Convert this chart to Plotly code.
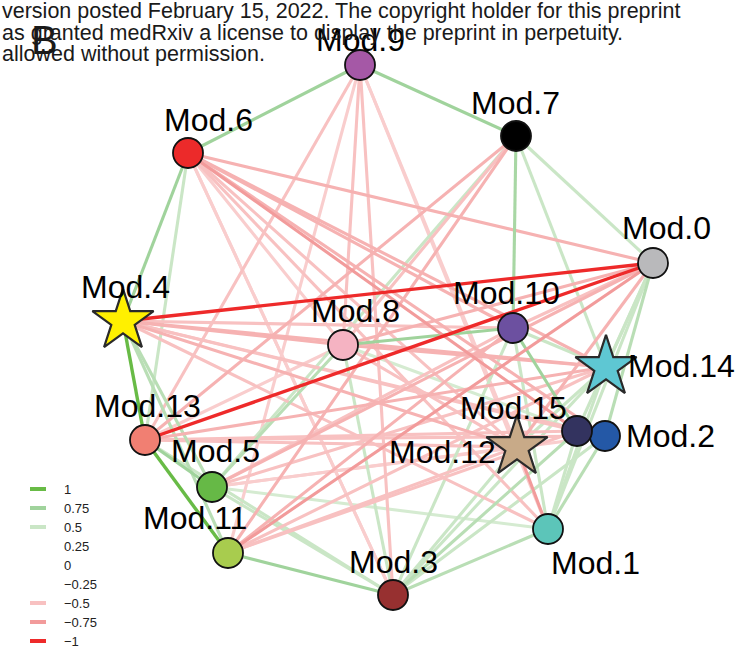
import plotly.graph_objects as go

# ---------------- data ----------------
modules = ["Mod.0", "Mod.1", "Mod.2", "Mod.3", "Mod.4", "Mod.5", "Mod.6", "Mod.7",
           "Mod.8", "Mod.9", "Mod.10", "Mod.11", "Mod.12", "Mod.13", "Mod.14", "Mod.15"]

# network layout (x, y) in the drawing frame
layout_x = {"Mod.0": 653, "Mod.1": 548, "Mod.2": 605, "Mod.3": 393, "Mod.4": 123, "Mod.5": 212,
            "Mod.6": 188, "Mod.7": 516, "Mod.8": 343, "Mod.9": 360, "Mod.10": 513, "Mod.11": 228,
            "Mod.12": 517, "Mod.13": 145, "Mod.14": 606, "Mod.15": 577}
layout_y = {"Mod.0": 263, "Mod.1": 529, "Mod.2": 436, "Mod.3": 595, "Mod.4": 321, "Mod.5": 487,
            "Mod.6": 153, "Mod.7": 136, "Mod.8": 345, "Mod.9": 65, "Mod.10": 328, "Mod.11": 553,
            "Mod.12": 447, "Mod.13": 440, "Mod.14": 367, "Mod.15": 431}

hub_modules = ["Mod.4", "Mod.14", "Mod.12"]

edge_from = ["Mod.9", "Mod.9", "Mod.6", "Mod.6", "Mod.4", "Mod.4", "Mod.4", "Mod.13", "Mod.13", "Mod.13",
             "Mod.5", "Mod.11", "Mod.8", "Mod.8", "Mod.8", "Mod.8", "Mod.7", "Mod.7", "Mod.7", "Mod.7",
             "Mod.10", "Mod.10", "Mod.10", "Mod.10", "Mod.0", "Mod.0", "Mod.0", "Mod.0", "Mod.14", "Mod.14",
             "Mod.15", "Mod.2", "Mod.1", "Mod.2", "Mod.15", "Mod.12", "Mod.12", "Mod.5",
             "Mod.4", "Mod.13", "Mod.6", "Mod.6", "Mod.6", "Mod.6", "Mod.6", "Mod.6", "Mod.6", "Mod.6",
             "Mod.6", "Mod.9", "Mod.9", "Mod.9", "Mod.9", "Mod.9", "Mod.9", "Mod.7", "Mod.7", "Mod.7",
             "Mod.4", "Mod.4", "Mod.4", "Mod.4", "Mod.4", "Mod.4", "Mod.4", "Mod.13", "Mod.13", "Mod.13",
             "Mod.13", "Mod.13", "Mod.5", "Mod.5", "Mod.5", "Mod.5", "Mod.11", "Mod.11", "Mod.11", "Mod.11",
             "Mod.0", "Mod.0", "Mod.0", "Mod.12", "Mod.8", "Mod.8", "Mod.11", "Mod.5", "Mod.3"]
edge_to = ["Mod.7", "Mod.6", "Mod.4", "Mod.13", "Mod.13", "Mod.5", "Mod.11", "Mod.11", "Mod.5", "Mod.3",
           "Mod.3", "Mod.3", "Mod.10", "Mod.5", "Mod.15", "Mod.3", "Mod.10", "Mod.14", "Mod.0", "Mod.5",
           "Mod.15", "Mod.14", "Mod.3", "Mod.1", "Mod.14", "Mod.2", "Mod.15", "Mod.1", "Mod.1", "Mod.3",
           "Mod.3", "Mod.3", "Mod.3", "Mod.1", "Mod.1", "Mod.3", "Mod.14", "Mod.1",
           "Mod.0", "Mod.0", "Mod.0", "Mod.14", "Mod.10", "Mod.15", "Mod.2", "Mod.12", "Mod.1", "Mod.3",
           "Mod.8", "Mod.8", "Mod.3", "Mod.12", "Mod.1", "Mod.13", "Mod.11", "Mod.13", "Mod.11", "Mod.8",
           "Mod.14", "Mod.2", "Mod.15", "Mod.12", "Mod.1", "Mod.8", "Mod.10", "Mod.14", "Mod.2", "Mod.15",
           "Mod.12", "Mod.8", "Mod.14", "Mod.0", "Mod.10", "Mod.2", "Mod.0", "Mod.14", "Mod.10", "Mod.15",
           "Mod.8", "Mod.12", "Mod.10", "Mod.1", "Mod.14", "Mod.12", "Mod.12", "Mod.12", "Mod.6"]
edge_weight = [0.75, 0.75, 0.75, 0.5, 1.0, 0.6, 0.6, 1.0, 0.75, 0.5,
               0.5, 0.75, 0.75, 0.6, 0.45, 0.5, 0.7, 0.5, 0.5, 0.5,
               0.75, 0.5, 0.5, 0.5, 0.5, 0.6, 0.5, 0.5, 0.5, 0.5,
               0.6, 0.5, 0.6, 0.6, 0.5, 0.5, 0.5, 0.45,
               -1.0, -1.0, -0.6, -0.6, -0.6, -0.75, -0.6, -0.5, -0.5, -0.45,
               -0.45, -0.5, -0.5, -0.45, -0.45, -0.5, -0.45, -0.6, -0.6, -0.5,
               -0.6, -0.5, -0.5, -0.6, -0.5, -0.6, -0.5, -0.6, -0.5, -0.5,
               -0.5, -0.45, -0.5, -0.6, -0.5, -0.45, -0.75, -0.5, -0.6, -0.5,
               -0.6, -0.6, -0.5, -0.75, -0.6, -0.5, -0.5, -0.45, -0.45]

legend_values = [1, 0.75, 0.5, 0.25, 0, -0.25, -0.5, -0.75, -1]
legend_labels = ["1", "0.75", "0.5", "0.25", "0", "\u22120.25", "\u22120.5", "\u22120.75", "\u22121"]

node_colors = {"Mod.0": "#b9b9bb", "Mod.1": "#5cc5b9", "Mod.2": "#2458a6", "Mod.3": "#973030",
               "Mod.4": "#fff000", "Mod.5": "#66b946", "Mod.6": "#ec2a2a", "Mod.7": "#000000",
               "Mod.8": "#f5b3c2", "Mod.9": "#a558a6", "Mod.10": "#6c50a0", "Mod.11": "#a8cc4e",
               "Mod.12": "#c8aa88", "Mod.13": "#f17f72", "Mod.14": "#5ec7d3", "Mod.15": "#33335f"}

header_lines = ["version posted February 15, 2022. The copyright holder for this preprint",
                "as granted medRxiv a license to display the preprint in perpetuity.",
                "allowed without permission."]
panel_letter = "B"

# ---------------- styling helpers ----------------
POS_STOPS = [(0.25, (255, 255, 255)), (0.5, (202, 230, 198)), (0.75, (160, 211, 156)), (1.0, (104, 187, 70))]
NEG_STOPS = [(0.25, (255, 255, 255)), (0.5, (248, 193, 193)), (0.75, (242, 155, 155)), (1.0, (238, 42, 42))]
FONT = "Liberation Sans, Arial, sans-serif"


def edge_color(w):
    stops = POS_STOPS if w > 0 else NEG_STOPS
    a = abs(w)
    if a <= stops[0][0]:
        return None
    for (a0, c0), (a1, c1) in zip(stops[:-1], stops[1:]):
        if a <= a1:
            t = (a - a0) / (a1 - a0)
            c = tuple(round(c0[i] + t * (c1[i] - c0[i])) for i in range(3))
            return "rgb(%d,%d,%d)" % c
    c = stops[-1][1]
    return "rgb(%d,%d,%d)" % c


fig = go.Figure()

# edges: weakest first so strongest are on top
order = sorted(range(len(edge_weight)), key=lambda i: abs(edge_weight[i]))
for i in order:
    w = edge_weight[i]
    col = edge_color(w)
    if col is None:
        continue
    a, b = edge_from[i], edge_to[i]
    fig.add_trace(go.Scatter(
        x=[layout_x[a], layout_x[b]], y=[layout_y[a], layout_y[b]],
        mode="lines", line=dict(color=col, width=3.4 if abs(w) >= 0.9 else 3.1),
        hoverinfo="skip", showlegend=False))

# nodes
circle_nodes = [m for m in modules if m not in hub_modules]
fig.add_trace(go.Scatter(
    x=[layout_x[m] for m in circle_nodes], y=[layout_y[m] for m in circle_nodes],
    mode="markers",
    marker=dict(symbol="circle", size=30, color=[node_colors[m] for m in circle_nodes],
                line=dict(color="#111111", width=1.8)),
    text=circle_nodes, hoverinfo="text", showlegend=False))
fig.add_trace(go.Scatter(
    x=[layout_x[m] for m in hub_modules], y=[layout_y[m] for m in hub_modules],
    mode="markers",
    marker=dict(symbol="star", size=46, color=[node_colors[m] for m in hub_modules],
                line=dict(color="#2a2a2a", width=2.2)),
    text=hub_modules, hoverinfo="text", showlegend=False))

# node labels
label_offset = {"Mod.0": (13, -35), "Mod.1": (47, 34), "Mod.2": (65, 0), "Mod.3": (0, -33),
                "Mod.4": (2, -34), "Mod.5": (3, -36), "Mod.6": (20, -33), "Mod.7": (-1, -33),
                "Mod.8": (12, -34), "Mod.9": (0, -25), "Mod.10": (-7, -35), "Mod.11": (-33, -35),
                "Mod.12": (-75, 5), "Mod.13": (2, -34), "Mod.14": (75, -1), "Mod.15": (-64, -23)}
for m in modules:
    dx, dy = label_offset[m]
    fig.add_annotation(x=layout_x[m] + dx, y=layout_y[m] + dy, text=m, showarrow=False,
                       xanchor="center", yanchor="middle",
                       font=dict(family=FONT, size=32, color="#000000"))

# legend (edge weight scale)
for k, (v, lab) in enumerate(zip(legend_values, legend_labels)):
    yy = 489 + k * 19
    col = edge_color(v) if v != 0 else None
    if col is not None:
        fig.add_trace(go.Scatter(x=[30, 46], y=[yy, yy], mode="lines",
                                 line=dict(color=col, width=4), hoverinfo="skip", showlegend=False))
    fig.add_annotation(x=62, y=yy, text=lab, showarrow=False, xanchor="left", yanchor="middle",
                       font=dict(family=FONT, size=13, color="#222222"))

# header remnants and panel letter
for k, line in enumerate(header_lines):
    fig.add_annotation(x=0, y=11 + k * 21.5, text=line, showarrow=False, xanchor="left", yanchor="middle",
                       font=dict(family=FONT, size=21.5, color="#1a1a1a"))
fig.add_annotation(x=29, y=40, text=panel_letter, showarrow=False, xanchor="left", yanchor="middle",
                   font=dict(family=FONT, size=40, color="#1a1a1a"))

fig.update_xaxes(range=[0, 741], visible=False, showgrid=False, zeroline=False)
fig.update_yaxes(range=[651, 0], visible=False, showgrid=False, zeroline=False)
fig.update_layout(width=741, height=651, margin=dict(l=0, r=0, t=0, b=0),
                  plot_bgcolor="white", paper_bgcolor="white")

fig.write_html("out.html", config={"displayModeBar": False},
               post_script="document.body.style.margin='0';document.body.style.overflow='hidden';")
